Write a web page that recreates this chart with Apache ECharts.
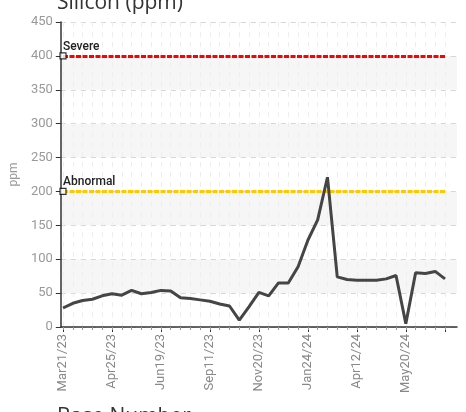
<!DOCTYPE html>
<html><head><meta charset="utf-8">
<script src="https://cdn.jsdelivr.net/npm/echarts@6/dist/echarts.min.js"></script>
<style>html,body{margin:0;padding:0;background:#fff}#c{width:466px;height:412px}</style>
</head><body><div id="c"></div>
<script>
// Category labels (only every 5th sample labelled in the reference)
const labeledDates = ['Mar21/23','Apr25/23','Jun19/23','Sep11/23','Nov20/23','Jan24/24','Apr12/24','May20/24'];
const sampleCount = 40;
// Silicon readings (ppm)
const silicon = [28,35,39,41,46,49,47,54,49,51,54,53,43,42,40,38,34,31,10,30,51,46,65,65,89,128,158,221,74,70,69,69,69,71,76,5,80,79,82,71];
// Limits
const limitValues = [400, 200];
const limitNames = ['Severe', 'Abnormal'];
const limitColors = ['#ff0000', '#ffc800'];
const yTicks = [0, 450, 50];

const categories = [];
for (let i = 0; i < sampleCount; i++) {
  categories.push(i % 5 === 0 ? labeledDates[i / 5] : '');
}

const chart = echarts.init(document.getElementById('c'), null, {renderer: 'canvas'});
const FONT = 'Roboto';
const option = {
  animation: false,
  title: [
    {text: 'Silicon (ppm)', left: 52, top: -12, textStyle: {fontSize: 21, fontWeight: 'normal', color: '#333', fontFamily: 'Open Sans'}},
    {text: 'Base Number', left: 52, top: 402, textStyle: {fontSize: 21, fontWeight: 'normal', color: '#333', fontFamily: 'Open Sans'}}
  ],
  grid: [
    {left: 63, right: 21, top: 22, bottom: 85},
    {left: 52, right: 9, top: 22, bottom: 85}
  ],
  xAxis: [
    {
      type: 'category', gridIndex: 0, data: categories, boundaryGap: false,
      axisLine: {show: false},
      axisTick: {show: true, interval: 4, length: 5, lineStyle: {color: '#333'}},
      axisLabel: {interval: 0, rotate: 90, color: '#888', fontSize: 13, fontFamily: FONT, margin: 7},
      splitLine: {show: true, interval: 4, lineStyle: {color: '#d6d6d6', type: [5, 5]}}
    },
    {
      type: 'category', gridIndex: 0, data: categories, boundaryGap: false, position: 'bottom',
      axisLine: {show: false},
      axisTick: {show: true, interval: 0, length: 3, lineStyle: {color: '#999'}},
      axisLabel: {show: false},
      splitLine: {show: true, interval: 0, lineStyle: {color: '#eeeeee', type: [5, 5]}}
    },
    {
      type: 'value', gridIndex: 1, min: 0, max: 1,
      axisLine: {show: true, onZero: false, lineStyle: {color: '#333', width: 1.5}},
      axisTick: {show: false}, axisLabel: {show: false}, splitLine: {show: false}
    }
  ],
  yAxis: [
    {type: 'value', gridIndex: 0, min: yTicks[0], max: yTicks[1], interval: yTicks[2], show: false},
    {
      type: 'value', gridIndex: 1, min: yTicks[0], max: yTicks[1], interval: yTicks[2],
      name: 'ppm', nameLocation: 'middle', nameGap: 33,
      nameTextStyle: {color: '#999', fontSize: 12, fontFamily: FONT},
      axisLine: {show: true, lineStyle: {color: '#333', width: 1.5}},
      axisTick: {show: true, length: 5, lineStyle: {color: '#333'}},
      axisLabel: {color: '#999', fontSize: 13, fontFamily: FONT, margin: 8},
      splitLine: {show: true, lineStyle: {color: '#d6d6d6', type: [5, 5]}},
      splitArea: {show: true, areaStyle: {color: ['rgba(255,255,255,0)', '#f6f6f6']}}
    }
  ],
  series: [
    {
      type: 'line', xAxisIndex: 0, yAxisIndex: 0, data: silicon,
      showSymbol: false, symbol: 'none',
      lineStyle: {color: '#454545', width: 3}, z: 5,
      emphasis: {disabled: true},
      markLine: {
        silent: true, symbol: ['none', 'none'],
        emphasis: {disabled: true},
        data: limitValues.map((v, i) => ({
          yAxis: v,
          lineStyle: {color: limitColors[i], width: 3, type: [5, 1.5], opacity: 1},
          label: {show: true, position: 'insideStartTop', formatter: limitNames[i], color: '#222', fontSize: 12, fontFamily: FONT, fontWeight: 500, distance: [0, 3]}
        }))
      }
    },
    {
      type: 'scatter', xAxisIndex: 0, yAxisIndex: 0,
      data: limitValues.map(v => [0, v]),
      symbol: 'rect', symbolSize: 6,
      itemStyle: {color: '#fff', borderColor: '#000', borderWidth: 1.2}, z: 10
    }
  ]
};
chart.setOption(option);
</script></body></html>
